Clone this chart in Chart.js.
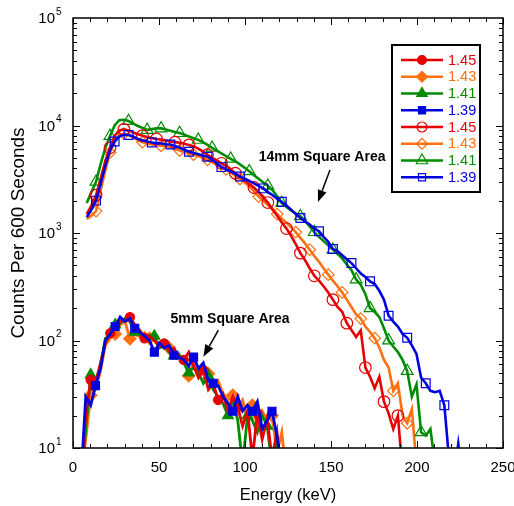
<!DOCTYPE html>
<html><head><meta charset="utf-8">
<script src="https://cdn.jsdelivr.net/npm/chart.js@4.4.1/dist/chart.umd.min.js"></script>
<style>html,body{margin:0;padding:0;background:#fff}#wrap{position:relative;width:514px;height:506px}</style>
</head><body><div id="wrap"><canvas id="c" width="514" height="506"></canvas></div>
<script>
// ---------- data ----------
const energy14 = [8.0,10.7,13.4,16.1,18.8,21.5,24.2,26.9,29.6,32.3,
 35.0,37.7,40.4,43.1,45.8,48.5,51.2,53.9,56.6,59.3,
 62.0,64.7,67.4,70.1,72.8,75.5,78.2,80.9,83.6,86.3,
 89.0,91.7,94.4,97.1,99.8,102.5,105.2,107.9,110.6,113.3,
 116.0,118.7,121.4,124.1,126.8,129.5,132.2,134.9,137.6,140.3,
 143.0,145.7,148.4,151.1,153.8,156.5,159.2,161.9,164.6,167.3,
 170.0,172.7,175.4,178.1,180.8,183.5,186.2,188.9,191.6,194.3,
 197.0,199.7,202.4,205.1,207.8,210.5,213.2,215.9,218.6,221.3,
 224.0,226.7];
const area14_145 = [1500,1800,2250,3200,4700,6200,8000,9000,9200,9000,
 8600,8300,8050,7800,7650,7500,7400,7250,7100,7000,
 6900,6750,6600,6400,6100,5750,5350,5000,4750,4450,
 4200,3900,3600,3350,3100,2850,2650,2400,2150,1920,
 1650,1450,1250,1100,940,790,650,560,470,400,
 360,320,280,240,205,185,145,125,108,124,
 56,46,36,46,27,21,15,20,6];
const area14_143 = [1350,1450,1600,2500,3800,5600,7100,8100,8400,8200,
 7700,7300,7000,6800,6650,6550,6480,6400,6250,6050,
 5850,5650,5500,5350,5200,5000,4800,4550,4300,4050,
 3900,3650,3400,3180,2950,2700,2450,2180,2000,1820,
 1670,1500,1360,1250,1130,1020,900,800,700,610,
 540,470,410,360,320,280,240,205,175,160,
 135,120,105,86,66,56,34,40,20,17,
 23,7];
const area14_141 = [1900,2400,3000,4400,6200,8000,10000,11200,11300,11000,
 10400,9900,9500,9100,9250,9400,9400,9200,8950,8700,
 8500,8200,7900,7600,7350,7000,6600,6200,5850,5500,
 5200,4900,4650,4350,4050,3750,3450,3200,2950,2750,
 2500,2200,1900,1750,1620,1520,1430,1300,1150,1020,
 920,840,770,700,640,580,510,450,370,330,
 270,200,185,165,130,100,88,78,66,52,
 30,39,14,13,15,7];
const area14_139 = [1400,1650,2000,2900,4200,5900,7100,7900,8200,8150,
 7900,7500,7300,7100,6950,6850,6800,6700,6650,6450,
 6200,5950,5700,5550,5400,5250,5120,4800,4450,4100,
 3900,3750,3550,3350,3200,3050,2900,2750,2600,2400,
 2250,2080,1950,1800,1650,1500,1380,1280,1200,1100,
 1040,920,830,710,680,620,570,525,470,420,
 390,355,335,290,240,170,150,135,115,106,
 90,75,45,40,34,33,34,25,8,5,
 11,5];

const energy5 = [4.6,7.4,10.3,13.1,16.0,18.8,21.7,24.5,27.4,30.2,
 33.1,35.9,38.8,41.6,44.5,47.3,50.2,53.0,55.9,58.7,
 61.6,64.4,67.3,70.1,73.0,75.8,78.7,81.5,84.4,87.2,
 90.1,92.9,95.8,98.6,101.5,104.3,107.2,110.0,112.9,115.7,
 118.6,121.4,124.3];
const area5_145 = [5,20,43,40,62,95,117,130,150,155,
 165,140,125,105,110,100,88,94,80,85,
 70,66,78,58,45,53,35,40,28,32,
 22,30,24,16,22,8,21,12,19,8,
 14,5,5];
const area5_143 = [5,12,31,35,52,90,105,115,140,150,
 104,115,108,118,105,100,92,100,85,80,
 72,68,47,62,52,58,49,38,42,32,
 28,31,24,28,18,25,16,22,18,20,
 9,14,5];
const area5_141 = [5,15,48,42,58,105,110,140,145,160,
 150,120,115,100,112,110,85,90,78,72,
 75,62,50,56,50,40,47,35,30,26,
 20,28,18,7,20,18,14,20,16,7,
 12,5,5];
const area5_139 = [5,30,25,38,55,100,115,135,165,150,
 160,130,120,110,100,78,95,85,90,73,
 70,66,58,70,55,62,42,40,38,30,
 26,22,30,22,25,22,27,15,18,22,
 13,6,5];

const seriesLabels = ['1.45','1.43','1.41','1.39'];
const xTickValues = [0,50,100,150,200,250];
const yTickValues = [10,100,1000,10000,100000];
const xTitle = 'Energy (keV)';
const yTitle = 'Counts Per 600 Seconds';
const note14 = '14mm Square Area';
const note5 = '5mm Square Area';

// ---------- style ----------
const COL = ['#e60000','#ff7010','#008c00','#0000e0'];
const FONT = '"Liberation Sans", Arial, sans-serif';
const marks14 = [
 [2,5,8,12,15,19,22,26,29,32,36,39,43,46,49,53,56,60,64,67],
 [2,5,8,12,16,20,23,26,30,33,37,41,45,48,52,55,59,62,66,69],
 [2,5,9,13,16,20,24,27,31,35,39,42,46,49,53,58,61,65,69,72],
 [2,6,9,14,18,22,26,29,33,38,42,46,50,53,57,61,65,69,73,77]];
const marks5 = [
 [2,6,10,13,17,21,25,28,32,36],
 [2,7,10,14,18,22,26,31,35,39],
 [2,7,11,15,19,22,26,30,34,38],
 [3,7,11,15,19,23,27,31,35,39]];
const styles = ['circle','rectRot','triangle','rect'];
const rad14 = [5.8,5.8,6.8,6.2];
const rad5 = [4.6,6.2,6.2,5.6];
const order = [2,4,3,1];

function mk(label, xs, ys, ci, filled, marks, radius, ord, lw){
  return {
    label, data: ys.map((v,i)=>({x:xs[i], y:v})),
    borderColor: COL[ci], borderWidth: lw, tension: 0,
    pointStyle: styles[ci],
    pointRadius: c => marks.includes(c.dataIndex) ? radius : 0,
    pointBorderColor: COL[ci], pointBorderWidth: 1.2,
    pointBackgroundColor: filled ? COL[ci] : 'rgba(0,0,0,0)',
    order: ord, clip: 0, spanGaps: false
  };
}
const s5 = [area5_145, area5_143, area5_141, area5_139];
const s14 = [area14_145, area14_143, area14_141, area14_139];
const datasets = [];
for (let i=0;i<4;i++) datasets.push(mk(seriesLabels[i], energy5, s5[i], i, true, marks5[i], rad5[i], order[i], 2.8));
for (let i=0;i<4;i++) datasets.push(mk(seriesLabels[i], energy14, s14[i], i, false, marks14[i], rad14[i], order[i]+4, 2.6));

function arrow(ctx, x1, y1, x2, y2){
  const ang = Math.atan2(y2-y1, x2-x1), L = 12, W = 4.5;
  const bx = x2 - L*Math.cos(ang), by = y2 - L*Math.sin(ang);
  ctx.beginPath(); ctx.moveTo(x1,y1); ctx.lineTo(bx,by); ctx.stroke();
  ctx.beginPath(); ctx.moveTo(x2,y2);
  ctx.lineTo(bx + W*Math.sin(ang), by - W*Math.cos(ang));
  ctx.lineTo(bx - W*Math.sin(ang), by + W*Math.cos(ang));
  ctx.closePath(); ctx.fill();
}

const decor = {
  id: 'decor',
  afterDraw(chart){
    const {ctx, chartArea: a, scales: {x, y}} = chart;
    ctx.save();
    ctx.strokeStyle = '#000'; ctx.fillStyle = '#000'; ctx.lineWidth = 1;
    ctx.beginPath();
    for (let v = x.min; v <= x.max; v += 10){
      const px = Math.round(x.getPixelForValue(v)) + 0.5;
      const len = v % 50 === 0 ? 7 : 4;
      ctx.moveTo(px, a.bottom); ctx.lineTo(px, a.bottom - len);
      ctx.moveTo(px, a.top); ctx.lineTo(px, a.top + len);
    }
    for (let d = y.min; d < y.max; d *= 10){
      for (let m = 1; m <= 9; m++){
        const py = Math.round(y.getPixelForValue(m*d)) + 0.5;
        const len = m === 1 ? 7 : 4;
        ctx.moveTo(a.left, py); ctx.lineTo(a.left + len, py);
        ctx.moveTo(a.right, py); ctx.lineTo(a.right - len, py);
      }
    }
    ctx.stroke();
    ctx.lineWidth = 1.5;
    ctx.strokeRect(a.left, a.top, a.right - a.left, a.bottom - a.top);

    // x tick labels
    ctx.font = '15px ' + FONT; ctx.textAlign = 'center'; ctx.textBaseline = 'middle';
    xTickValues.forEach(v => ctx.fillText(String(v), x.getPixelForValue(v), a.bottom + 20));
    // y tick labels 10^n
    yTickValues.forEach(v => {
      const py = y.getPixelForValue(v);
      const e = String(Math.round(Math.log10(v)));
      ctx.font = '15px ' + FONT; ctx.textAlign = 'right'; ctx.textBaseline = 'middle';
      ctx.fillText('10', a.left - 18, py + 1);
      ctx.font = '10px ' + FONT; ctx.textAlign = 'left';
      ctx.fillText(e, a.left - 17, py - 6);
    });
    // axis titles
    ctx.font = '16.5px ' + FONT; ctx.textAlign = 'center'; ctx.textBaseline = 'middle';
    ctx.fillText(xTitle, (a.left + a.right)/2, 495);
    ctx.save();
    ctx.translate(19, (a.top + a.bottom)/2); ctx.rotate(-Math.PI/2);
    ctx.font = '19px ' + FONT;
    ctx.fillText(yTitle, 0, 0);
    ctx.restore();

    // annotations
    ctx.font = 'bold 14px ' + FONT; ctx.textAlign = 'center'; ctx.textBaseline = 'middle';
    ctx.fillText(note14, x.getPixelForValue(144.8), y.getPixelForValue(5100));
    ctx.fillText(note5, x.getPixelForValue(91.3), y.getPixelForValue(158));
    ctx.lineWidth = 1.5;
    arrow(ctx, x.getPixelForValue(149.4), y.getPixelForValue(3850), x.getPixelForValue(142.4), y.getPixelForValue(1940));
    arrow(ctx, x.getPixelForValue(84.5), y.getPixelForValue(125), x.getPixelForValue(75.8), y.getPixelForValue(70.6));

    // legend
    const L = {x: 392, y: 45, w: 88, h: 147};
    ctx.fillStyle = '#fff'; ctx.fillRect(L.x, L.y, L.w, L.h);
    ctx.lineWidth = 2; ctx.strokeStyle = '#000'; ctx.strokeRect(L.x, L.y, L.w, L.h);
    const legR = [[4.5,5.5,6,5],[5,5.5,6.5,5]];
    for (let k = 0; k < 8; k++){
      const ci = k % 4, filled = k < 4;
      const ry = 60 + k*16.75;
      ctx.strokeStyle = COL[ci]; ctx.lineWidth = 2.5;
      ctx.beginPath(); ctx.moveTo(401, ry); ctx.lineTo(443, ry); ctx.stroke();
      ctx.lineWidth = 1.2;
      ctx.fillStyle = filled ? COL[ci] : 'rgba(0,0,0,0)';
      Chart.helpers.drawPoint(ctx, {pointStyle: styles[ci], radius: legR[filled?0:1][ci], rotation: 0, borderWidth: 1.2}, 422, ry);
      ctx.fillStyle = COL[ci];
      ctx.font = '14.5px ' + FONT; ctx.textAlign = 'left'; ctx.textBaseline = 'middle';
      ctx.fillText(seriesLabels[ci], 448, ry + 0.5);
    }
    ctx.restore();
  }
};

new Chart(document.getElementById('c'), {
  type: 'line',
  data: { datasets },
  options: {
    responsive: false, animation: false, events: [],
    layout: { padding: { left: 73, right: 11, top: 18, bottom: 58 } },
    plugins: { legend: { display: false }, tooltip: { enabled: false } },
    scales: {
      x: { type: 'linear', min: 0, max: 250, display: false },
      y: { type: 'logarithmic', min: 10, max: 100000, display: false }
    }
  },
  plugins: [decor]
});
</script>
</body></html>
